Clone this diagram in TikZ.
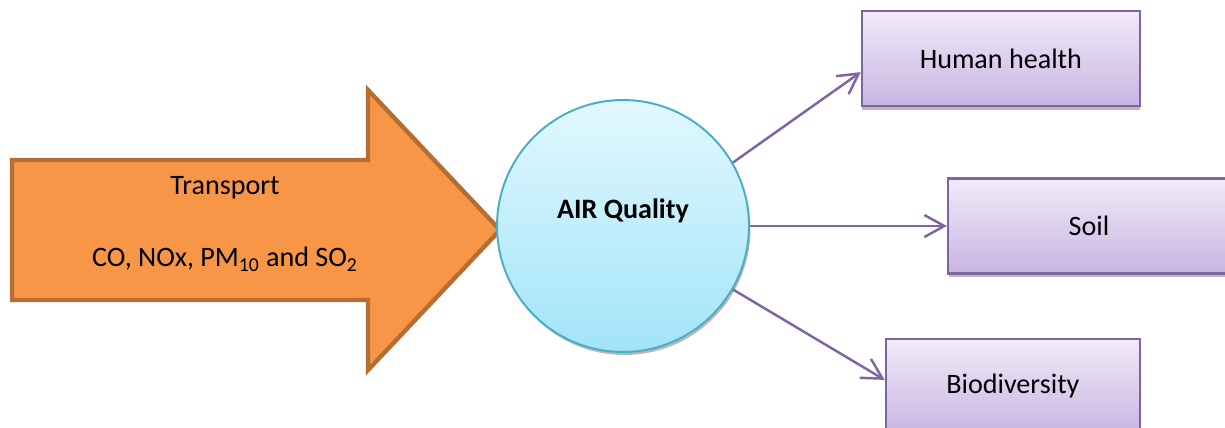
\documentclass[tikz,border=0pt]{standalone}
\usepackage{fontspec}
\setmainfont{Carlito}
\usetikzlibrary{positioning, arrows.meta, shadows}

\definecolor{arrowfill}{HTML}{F79646}
\definecolor{arrowedge}{HTML}{B66D31}
\definecolor{airedge}{HTML}{4BACC6}
\definecolor{airtop}{HTML}{E2F8FE}
\definecolor{airbottom}{HTML}{A2E4F8}
\definecolor{boxline}{HTML}{8064A2}
\definecolor{boxtop}{HTML}{F0EBF8}
\definecolor{boxbottom}{HTML}{C8B5E2}

\begin{document}
\begin{tikzpicture}[
    x=0.02cm, y=-0.02cm,
    font=\fontsize{16}{19}\selectfont,
    bigarrow/.style={draw=arrowedge, fill=arrowfill, line width=2.5pt, line join=miter},
    airnode/.style={circle, draw=airedge, line width=1.1pt, minimum size=5.04cm, top color=airtop, bottom color=airbottom,
        drop shadow={shadow xshift=0.03cm, shadow yshift=-0.06cm, fill=gray!70, opacity=0.8},
        font=\fontsize{16}{19}\selectfont\bfseries, text height=12pt, text depth=20pt},
    box/.style={draw=boxline, rectangle, line width=1.3pt, minimum height=1.9cm, top color=boxtop, bottom color=boxbottom,
        drop shadow={shadow xshift=0.01cm, shadow yshift=-0.08cm, fill=gray!70, opacity=0.8}},
    link/.style={-{Straight Barb[length=0.4cm, width=0.44cm]}, draw=boxline, line width=1.4pt}
]
\useasboundingbox (0,0) rectangle (1225,427);

% Transport arrow with the pollutants
\draw[bigarrow] (12,160) -- (368,160) -- (368,90) -- (500,230) -- (368,370) -- (368,300) -- (12,300) -- cycle;
\node[align=center] (transport) at (225,224) {Transport\\[22pt]CO, NOx, PM\textsubscript{10} and SO\textsubscript{2}};

% Air quality and what it affects
\node[airnode] (air) at (623,226) {AIR Quality};
\node[box, minimum width=5.56cm, above right=0.58cm and 2.96cm of air] (health) {Human health};
\node[box, minimum width=5.64cm, right=3.94cm of air] (soil) {Soil};
\node[box, minimum width=5.08cm, below right=0.44cm and 3.44cm of air] (biodiv) {Biodiversity};

\draw[link] (air.30) -- ([yshift=-0.27cm]health.west);
\draw[link] (air.east) -- (soil.west);
\draw[link] (air.-30) -- ([yshift=0.13cm]biodiv.west);

\end{tikzpicture}
\end{document}
